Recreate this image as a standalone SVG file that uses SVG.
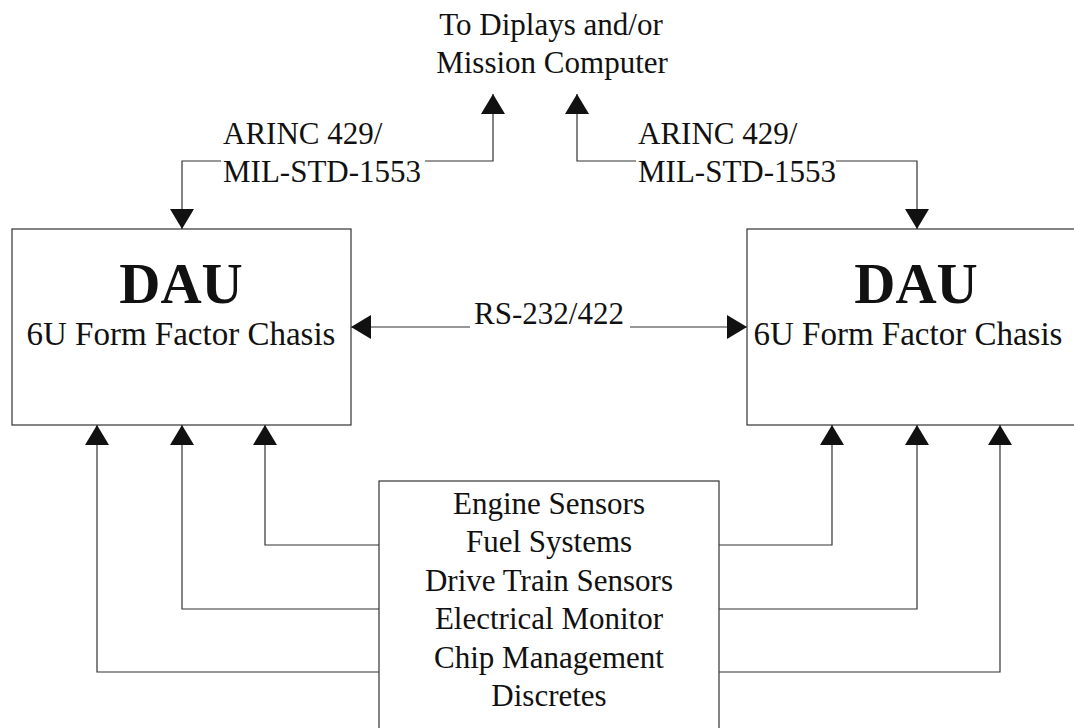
<svg xmlns="http://www.w3.org/2000/svg" width="1074" height="728" viewBox="0 0 1074 728">
<style>
  .bg{fill:#ffffff}
  .box{fill:none;stroke:#333333;stroke-width:1.2}
  .line{fill:none;stroke:#333333;stroke-width:1.2}
  .bi{marker-start:url(#arr);marker-end:url(#arr)}
  .one{marker-end:url(#arr)}
  .t{font-family:"Liberation Serif","Times New Roman",serif;font-size:31px;fill:#111}
  .sub{font-size:33px}
  .mid{text-anchor:middle}
  .big{font-family:"Liberation Serif","Times New Roman",serif;font-size:57px;font-weight:bold;fill:#111;text-anchor:middle}
  .mask{fill:#ffffff;stroke:none}
</style>
<defs>
  <marker id="arr" markerUnits="userSpaceOnUse" markerWidth="21" markerHeight="24" viewBox="0 0 21 24" refX="20" refY="12" orient="auto-start-reverse">
    <path d="M0,0 L20,12 L0,24 z" fill="#111"/>
  </marker>
</defs>
<rect class="bg" x="0" y="0" width="1074" height="728"/>

<g id="connectors">
  <path id="c-left-bus" class="line bi" d="M182,229 V161 H493 V94"/>
  <path id="c-right-bus" class="line bi" d="M917,229 V161 H577 V94"/>
  <path id="c-rs" class="line bi" d="M351,327 H747"/>
  <path id="c-l1" class="line one" d="M379,545 H265 V425"/>
  <path id="c-l2" class="line one" d="M379,609 H182 V425"/>
  <path id="c-l3" class="line one" d="M379,672 H97 V425"/>
  <path id="c-r1" class="line one" d="M719,545 H832 V425"/>
  <path id="c-r2" class="line one" d="M719,609 H917 V425"/>
  <path id="c-r3" class="line one" d="M719,672 H1000 V425"/>
</g>

<g id="label-arinc-left">
  <rect class="mask" x="221" y="158" width="204" height="30"/>
  <text class="t" x="223" y="144">ARINC 429/</text>
  <text class="t" x="223" y="182">MIL-STD-1553</text>
</g>
<g id="label-arinc-right">
  <rect class="mask" x="636" y="158" width="200" height="30"/>
  <text class="t" x="638" y="144">ARINC 429/</text>
  <text class="t" x="638" y="182">MIL-STD-1553</text>
</g>
<g id="label-rs">
  <rect class="mask" x="470" y="300" width="160" height="30"/>
  <text class="t mid" x="549" y="324">RS-232/422</text>
</g>

<g id="node-mission">
  <text class="t mid" x="551" y="35">To Diplays and/or</text>
  <text class="t mid" x="552" y="73">Mission Computer</text>
</g>

<g id="node-dau-left">
  <rect class="box" x="12" y="229" width="339" height="196"/>
  <text class="big" x="181" y="303">DAU</text>
  <text class="t sub mid" x="181" y="345">6U Form Factor Chasis</text>
</g>

<g id="node-dau-right">
  <rect class="box" x="747" y="229" width="339" height="196"/>
  <text class="big" x="916" y="303">DAU</text>
  <text class="t sub mid" x="908" y="345">6U Form Factor Chasis</text>
</g>

<g id="node-sources">
  <rect class="box" x="379" y="481" width="340" height="260"/>
  <text class="t mid" x="549" y="514">Engine Sensors</text>
  <text class="t mid" x="549" y="552">Fuel Systems</text>
  <text class="t mid" x="549" y="591">Drive Train Sensors</text>
  <text class="t mid" x="549" y="629">Electrical Monitor</text>
  <text class="t mid" x="549" y="668">Chip Management</text>
  <text class="t mid" x="549" y="706">Discretes</text>
</g>
</svg>
